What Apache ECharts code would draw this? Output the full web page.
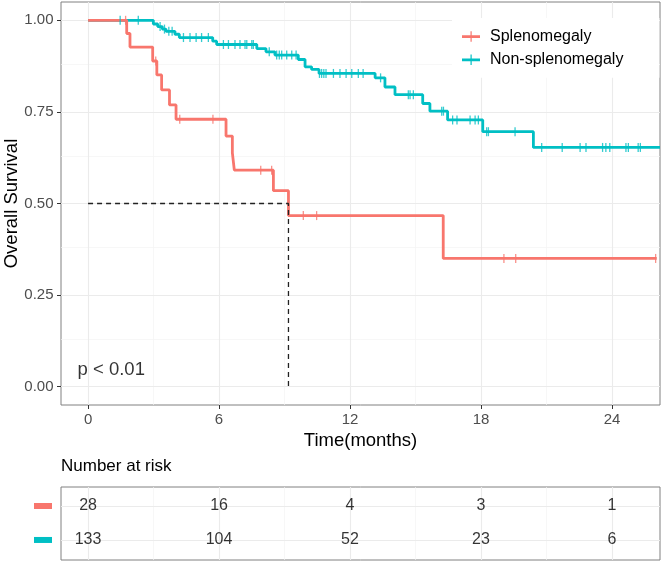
<!DOCTYPE html>
<html><head><meta charset="utf-8">
<script src="https://cdn.jsdelivr.net/npm/echarts@6/dist/echarts.min.js"></script>
<style>html,body{margin:0;padding:0;background:#fff}#c{width:661px;height:561px}</style>
</head><body><div id="c"></div>
<script>
// ---------------- data ----------------
const groupNames = ['Splenomegaly', 'Non-splenomegaly'];
const groupColors = ['#F8766D', '#00BFC4'];

// Kaplan-Meier steps (event time in months, survival after the event)
const splenTime = [0, 1.77, 1.92, 2.96, 3.15, 3.37, 3.73, 4.03, 6.32, 6.61, 6.70, 8.49, 9.18, 16.27, 26.05];
const splenSurv = [1, 0.964, 0.927, 0.889, 0.851, 0.810, 0.769, 0.730, 0.684, 0.638, 0.591, 0.535, 0.467, 0.350, 0.350];
const splenCensor = [1.72, 3.10, 4.20, 5.72, 7.91, 8.41, 9.86, 10.47, 19.05, 19.59, 26.0];

const nonTime = [0, 2.99, 3.19, 3.40, 3.57, 3.98, 4.18, 5.71, 5.89, 7.73, 8.15, 8.56, 9.63, 9.94, 10.24, 10.58, 13.15, 13.60, 14.06, 15.33, 15.66, 16.47, 18.08, 20.40, 26.2];
const nonSurv = [1, 0.990, 0.983, 0.976, 0.970, 0.962, 0.953, 0.943, 0.934, 0.923, 0.914, 0.905, 0.893, 0.873, 0.866, 0.855, 0.843, 0.818, 0.797, 0.773, 0.752, 0.728, 0.696, 0.653, 0.653];
const nonCensor = [1.47, 2.30, 3.30, 3.50, 3.70, 3.85, 4.37, 4.67, 4.95, 5.20, 5.51, 6.20, 6.43, 6.73, 6.96, 7.19, 7.27, 7.50, 7.57,
  8.30, 8.64, 8.76, 8.87, 9.10, 9.33, 9.53, 10.60, 10.70, 10.80, 10.90, 11.24, 11.54, 11.82, 12.08, 12.38, 12.60, 13.40,
  14.67, 14.75, 14.90, 16.20, 16.28, 16.70, 16.90, 17.50, 17.73, 17.88, 18.26, 18.34, 19.56, 20.78, 21.72, 22.54, 22.81,
  23.57, 23.72, 23.90, 24.64, 24.75, 25.20, 25.30];

const medianTime = 9.18;
const medianSurv = 0.5;
const pValueText = 'p < 0.01';

const xTicks = [0, 6, 12, 18, 24];
const xMinor = [3, 9, 15, 21];
const yTicks = [0, 0.25, 0.5, 0.75, 1];
const yTickLabels = ['0.00', '0.25', '0.50', '0.75', '1.00'];
const yMinor = [0.125, 0.375, 0.625, 0.875];

const riskTimes = [0, 6, 12, 18, 24];
const riskSplen = [28, 16, 4, 3, 1];
const riskNon = [133, 104, 52, 23, 6];

// ---------------- helpers ----------------
const FONT = '"Liberation Sans", Arial, Helvetica, sans-serif';
function stepLookup(times, surv, t) {
  let s = surv[0];
  for (let i = 0; i < times.length; i++) { if (times[i] <= t) s = surv[i]; }
  return s;
}
const pairs = (a, b) => a.map((v, i) => [v, b[i]]);
const censorPts = (c, times, surv) => c.map(t => [t, stepLookup(times, surv, t)]);
const rowIndex = [0, 1];

const majorStyle = { color: '#EBEBEB', width: 1.1, type: 'solid' };
const minorStyle = { color: '#F3F3F3', width: 0.7, type: 'solid' };
const gridMarks = [].concat(
  xMinor.map(v => ({ xAxis: v, lineStyle: minorStyle })),
  yMinor.map(v => ({ yAxis: v, lineStyle: minorStyle })),
  xTicks.map(v => ({ xAxis: v, lineStyle: majorStyle })),
  yTicks.map(v => ({ yAxis: v, lineStyle: majorStyle }))
);
const riskGridMarks = [].concat(
  xMinor.map(v => ({ xAxis: v, lineStyle: minorStyle })),
  xTicks.map(v => ({ xAxis: v, lineStyle: majorStyle })),
  rowIndex.map(v => ({ yAxis: v, lineStyle: majorStyle }))
);

const chart = echarts.init(document.getElementById('c'), null, { renderer: 'canvas' });
const X_MIN = -1.24, X_MAX = 26.2;

const option = {
  animation: false,
  backgroundColor: '#ffffff',
  textStyle: { fontFamily: FONT },
  grid: [
    { left: 61, top: 2, width: 599, height: 403, show: true, borderColor: '#808080', borderWidth: 1, backgroundColor: 'transparent', containLabel: false, outerBoundsMode: 'none' },
    { left: 61, top: 487, width: 599, height: 73, show: true, borderColor: '#808080', borderWidth: 1, backgroundColor: 'transparent', containLabel: false, outerBoundsMode: 'none' }
  ],
  xAxis: [
    {
      type: 'value', gridIndex: 0, min: X_MIN, max: X_MAX, position: 'bottom',
      axisLine: { show: false, onZero: false },
      axisTick: { show: true, customValues: xTicks, length: 4, lineStyle: { color: '#333333', width: 1 } },
      axisLabel: { customValues: xTicks, fontSize: 15, color: '#4D4D4D', margin: 7, fontFamily: FONT },
      splitLine: { show: false },
      name: 'Time(months)', nameLocation: 'middle', nameGap: 24,
      nameTextStyle: { fontSize: 18.5, color: '#000000', fontFamily: FONT, verticalAlign: 'top' }
    },
    {
      type: 'value', gridIndex: 1, min: X_MIN, max: X_MAX,
      axisLine: { show: false, onZero: false }, axisTick: { show: false }, axisLabel: { show: false }, splitLine: { show: false }
    }
  ],
  yAxis: [
    {
      type: 'value', gridIndex: 0, min: -0.05, max: 1.05, position: 'left',
      axisLine: { show: false, onZero: false },
      axisTick: { show: true, customValues: yTicks, length: 4, lineStyle: { color: '#333333', width: 1 } },
      axisLabel: {
        customValues: yTicks, fontSize: 15, color: '#4D4D4D', margin: 7.5, fontFamily: FONT,
        formatter: v => { const i = yTicks.findIndex(t => Math.abs(t - v) < 1e-9); return i >= 0 ? yTickLabels[i] : ''; }
      },
      splitLine: { show: false },
      name: 'Overall Survival', nameLocation: 'middle', nameGap: 40, nameMoveOverlap: false,
      nameTextStyle: { fontSize: 18.5, color: '#000000', fontFamily: FONT }
    },
    {
      type: 'value', gridIndex: 1, min: -0.56, max: 1.59, inverse: true,
      axisLine: { show: false, onZero: false }, axisTick: { show: false }, splitLine: { show: false },
      axisLabel: {
        customValues: rowIndex,
        margin: 9,
        formatter: (v) => Math.round(v) === 0 ? '{a|}' : '{b|}',
        rich: {
          a: { backgroundColor: groupColors[0], width: 18, height: 6 },
          b: { backgroundColor: groupColors[1], width: 18, height: 6 }
        }
      }
    }
  ],
  legend: {
    data: groupNames,
    orient: 'vertical',
    left: 452, top: 18,
    backgroundColor: '#ffffff',
    padding: [10.5, 36, 10, 10],
    itemGap: 7.3,
    itemWidth: 18, itemHeight: 11,
    icon: 'path://M0,8 L36,8 L36,13.5 L0,13.5 Z M17,0 L19.4,0 L19.4,21 L17,21 Z',
    textStyle: { fontSize: 16, color: '#000000', fontFamily: FONT, lineHeight: 16, padding: [0, 0, 0, 5] },
    selectedMode: false,
    z: 10
  },
  graphic: [
    { type: 'text', left: 61, top: 458, style: { text: 'Number at risk', font: '17px ' + FONT, fill: '#000000' } }
  ],
  series: [
    // gridlines holder
    {
      type: 'scatter', name: '_grid', xAxisIndex: 0, yAxisIndex: 0, data: [[X_MIN, -0.05]], symbolSize: 0, silent: true, z: 0,
      markLine: { silent: true, symbol: 'none', z: 0, label: { show: false }, animation: false, data: gridMarks }
    },
    {
      type: 'line', name: groupNames[1], xAxisIndex: 0, yAxisIndex: 0, step: 'end', showSymbol: false, symbol: 'none',
      data: pairs(nonTime, nonSurv), color: groupColors[1], lineStyle: { width: 2.8, color: groupColors[1] }, z: 3, clip: true
    },
    {
      type: 'line', name: groupNames[0], xAxisIndex: 0, yAxisIndex: 0, step: 'end', showSymbol: false, symbol: 'none',
      data: pairs(splenTime, splenSurv), color: groupColors[0], lineStyle: { width: 2.8, color: groupColors[0] }, z: 3, clip: true
    },
    {
      type: 'scatter', name: '_censorNon', xAxisIndex: 0, yAxisIndex: 0, symbol: 'rect', symbolSize: [1.3, 9],
      data: censorPts(nonCensor, nonTime, nonSurv), itemStyle: { color: groupColors[1] }, z: 4, silent: true
    },
    {
      type: 'scatter', name: '_censorSplen', xAxisIndex: 0, yAxisIndex: 0, symbol: 'rect', symbolSize: [1.3, 9],
      data: censorPts(splenCensor, splenTime, splenSurv), itemStyle: { color: groupColors[0] }, z: 4, silent: true
    },
    {
      type: 'line', name: '_median', xAxisIndex: 0, yAxisIndex: 0, showSymbol: false, symbol: 'none',
      data: [[0, medianSurv], [medianTime, medianSurv], [medianTime, 0]],
      lineStyle: { color: '#222222', width: 1.3, type: [5, 4] }, z: 5, silent: true
    },
    {
      type: 'scatter', name: '_p', xAxisIndex: 0, yAxisIndex: 0, data: [[0, 0.045]], symbolSize: 0, silent: true, z: 6,
      label: { show: true, position: 'right', distance: -10.5, formatter: pValueText, fontSize: 18.5, color: '#000000', fontFamily: FONT }
    },
    // risk table
    {
      type: 'scatter', name: '_riskGrid', xAxisIndex: 1, yAxisIndex: 1, data: [[X_MIN, 0]], symbolSize: 0, silent: true, z: 0,
      markLine: { silent: true, symbol: 'none', z: 0, label: { show: false }, animation: false, data: riskGridMarks }
    },
    {
      type: 'scatter', name: '_risk1', xAxisIndex: 1, yAxisIndex: 1, symbolSize: 1, itemStyle: { color: 'rgba(0,0,0,0)' },
      data: riskTimes.map((t, i) => [t, rowIndex[0], riskSplen[i]]), silent: true, z: 3,
      label: { show: true, position: 'inside', formatter: p => String(p.value[2]), fontSize: 16, color: '#000000', fontFamily: FONT }
    },
    {
      type: 'scatter', name: '_risk2', xAxisIndex: 1, yAxisIndex: 1, symbolSize: 1, itemStyle: { color: 'rgba(0,0,0,0)' },
      data: riskTimes.map((t, i) => [t, rowIndex[1], riskNon[i]]), silent: true, z: 3,
      label: { show: true, position: 'inside', formatter: p => String(p.value[2]), fontSize: 16, color: '#000000', fontFamily: FONT }
    }
  ]
};
chart.setOption(option);
</script>
</body></html>
